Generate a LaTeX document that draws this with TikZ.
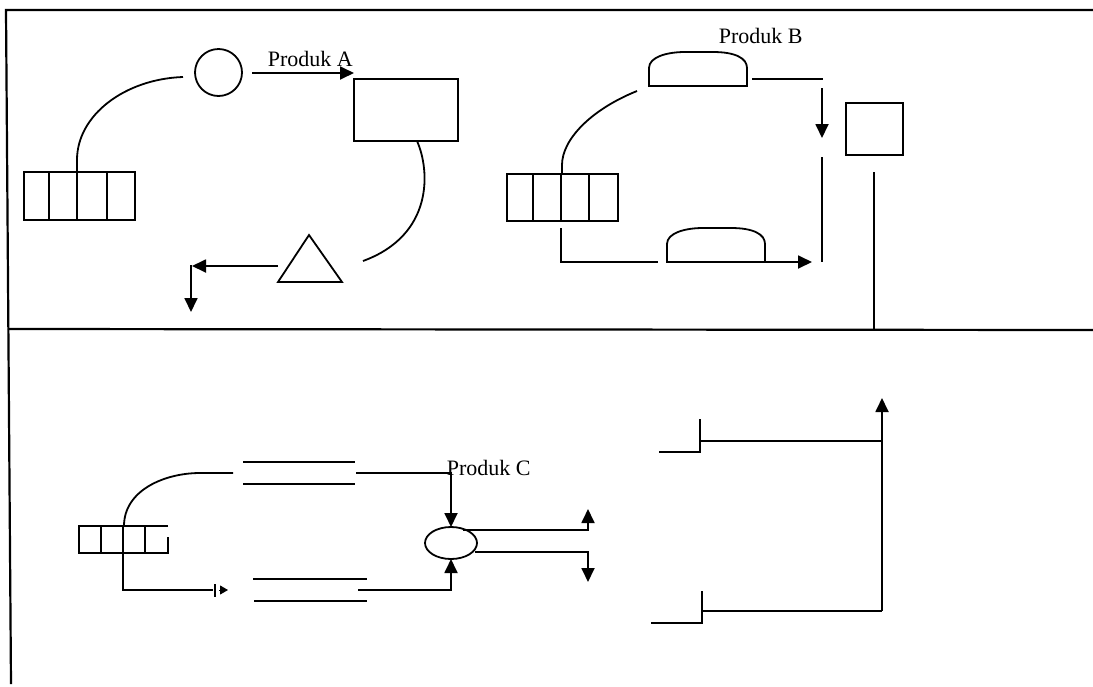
\documentclass[tikz,border=0pt]{standalone}
\usepackage{fontspec}
\setmainfont{Liberation Serif}
\usetikzlibrary{arrows.meta,shapes.geometric}
\begin{document}
\begin{tikzpicture}[x=1pt,y=-1pt, line width=1.8pt,
  arr/.style={-{Triangle[length=14pt,width=13pt]}},
  smallarr/.style={-{Triangle[length=8pt,width=9pt]}},
  boxnode/.style={draw, inner sep=0pt, outer sep=0pt},
  lbl/.style={inner sep=0pt, anchor=base west, font=\fontsize{22}{26}\selectfont},
  framel/.style={line width=2.2pt},
  dome/.pic={
    \draw (0,34) -- (0,16) .. controls (0,5) and (18,0) .. (36,0) -- (64,0)
          .. controls (86,0) and (98,6) .. (98,16) -- (98,34) -- cycle;
    \coordinate (-bl) at (0,34);
    \coordinate (-br) at (98,34);
  }]
\useasboundingbox (0,0) rectangle (1093,686);

% ---------- frame ----------
\coordinate (fTL) at (6,10);
\coordinate (fTR) at (1093,10);
\coordinate (fBL) at (11,684);
\coordinate (mL) at (8,329);
\coordinate (mR) at (1093,330);
\draw[framel] (fTR) -- (fTL) -- (fBL);
\draw[framel] (mL) -- (mR);

% ---------- panel A ----------
\node[boxnode, circle, minimum size=47pt] (cA) at (218.5,72.5) {};
\node[boxnode, minimum width=104pt, minimum height=62pt] (rA) at (406,110) {};
\node[boxnode, minimum width=111pt, minimum height=48pt] (qA) at (79.5,196) {};
\foreach \d in {25,53,83}
  \draw ([xshift=\d pt]qA.north west) -- ([xshift=\d pt]qA.south west);

\coordinate (tA1) at (309,235);
\coordinate (tA2) at (278,282);
\coordinate (tA3) at (342,282);
\draw (tA1) -- (tA2) -- (tA3) -- cycle;

\coordinate (kA1) at (183,77);
\coordinate (kA2) at (77,160);
\draw (kA1) .. controls (125,79) and (77,115) .. (kA2) -- (kA2 |- qA.north);

\coordinate (kA3) at (417,141);
\coordinate (kA4) at (363,261);
\draw (kA3) .. controls (430,170) and (434,235) .. (kA4);

\coordinate (aA1) at (252,73);
\draw[arr] (aA1) -- (aA1 -| rA.west);
\node[lbl] (tPA) at (267,66) {Produk A};

\coordinate (aA3) at (278,266);
\coordinate (aA4) at (192,266);
\draw[arr] (aA3) -- (aA4);
\coordinate (aA5) at (191,265);
\coordinate (aA6) at (191,312);
\draw[arr] (aA5) -- (aA6);

% ---------- panel B ----------
\node[boxnode, minimum width=111pt, minimum height=47pt] (qB) at (562.5,197.5) {};
\foreach \d in {26,54,82}
  \draw ([xshift=\d pt]qB.north west) -- ([xshift=\d pt]qB.south west);

\coordinate (kB1) at (637,91);
\coordinate (kB2) at (562,165);
\draw (kB1) .. controls (590,110) and (562,140) .. (kB2) -- (kB2 |- qB.north);

\pic (dB1) at (649,52) {dome};
\pic (dB2) at (667,228) {dome};
\node[lbl] (tPB) at (718,43) {Produk B};

\coordinate (lB1) at (561,228);
\coordinate (lB2) at (561,262);
\coordinate (lB3) at (658,262);
\draw (lB1) -- (lB2) -- (lB3);
\coordinate (aB2) at (812,262);
\draw[arr] (dB2-br) -- (aB2);

\coordinate (lB4) at (752,79);
\coordinate (lB5) at (823,79);
\draw (lB4) -- (lB5);
\coordinate (aB3) at (822,88);
\coordinate (aB4) at (822,138);
\draw[arr] (aB3) -- (aB4);
\coordinate (lB6) at (822,157);
\coordinate (lB7) at (822,262);
\draw (lB6) -- (lB7);

\node[boxnode, minimum width=57pt, minimum height=52pt] (sB) at (874.5,129) {};
\coordinate (lB8) at (874,172);
\coordinate (lB9) at (874,329);
\draw[line width=1.4pt] (lB8) -- (lB9);

% ---------- panel C ----------
\coordinate (qC1) at (168,526);
\coordinate (qC2) at (79,526);
\coordinate (qC3) at (79,553);
\coordinate (qC4) at (168,553);
\coordinate (qC5) at (168,537);
\draw (qC1) -- (qC2) -- (qC3) -- (qC4) -- (qC5);
\foreach \x in {101,123,145}
  \draw (\x,526) -- (\x,553);

\coordinate (kC1) at (124,526);
\coordinate (kC2) at (200,473);
\coordinate (kC3) at (233,473);
\draw (kC1) .. controls (124,490) and (165,473) .. (kC2) -- (kC3);

\coordinate (lC5) at (123,553);
\coordinate (lC6) at (123,590);
\coordinate (lC7) at (213,590);
\draw (lC5) -- (lC6) -- (lC7);
\coordinate (tk1) at (215,584);
\coordinate (tk2) at (215,597);
\draw[line width=2.4pt] (tk1) -- (tk2);
\coordinate (sa1) at (219,590);
\coordinate (sa2) at (228,590);
\draw[smallarr, line width=1pt] (sa1) -- (sa2);

% data stores
\coordinate (s1a) at (243,462); \coordinate (s1b) at (355,462);
\coordinate (s1c) at (243,484); \coordinate (s1d) at (355,484);
\coordinate (s2a) at (253,579); \coordinate (s2b) at (367,579);
\coordinate (s2c) at (254,601); \coordinate (s2d) at (367,601);
\draw (s1a) -- (s1b);
\draw (s1c) -- (s1d);
\draw (s2a) -- (s2b);
\draw (s2c) -- (s2d);

\node[boxnode, ellipse, minimum width=52pt, minimum height=32pt] (eC) at (451,543) {};
\coordinate (lC1) at (356,473);
\coordinate (lC2) at (451,473);
\draw[arr] (lC1) -- (lC2) -- (eC.north);
\coordinate (lC3) at (358,590);
\coordinate (lC4) at (451,590);
\draw[arr] (lC3) -- (lC4) -- (eC.south);
\node[lbl] (tPC) at (446,475) {Produk C};

\coordinate (oC1) at (463,530);
\coordinate (oC2) at (588,530);
\coordinate (oC3) at (588,509);
\draw[arr] (oC1) -- (oC2) -- (oC3);
\coordinate (oC4) at (475,552);
\coordinate (oC5) at (588,552);
\coordinate (oC6) at (588,582);
\draw[arr] (oC4) -- (oC5) -- (oC6);

% ---------- right structure ----------
\coordinate (u1) at (659,452);
\coordinate (u2) at (700,452);
\coordinate (u3) at (700,419);
\coordinate (u4) at (700,441);
\coordinate (u5) at (882,441);
\draw (u1) -- (u2) -- (u3);
\draw (u4) -- (u5);
\coordinate (w1) at (651,623);
\coordinate (w2) at (702,623);
\coordinate (w3) at (702,591);
\coordinate (w4) at (702,611);
\coordinate (w5) at (882,611);
\coordinate (w6) at (882,398);
\draw (w1) -- (w2) -- (w3);
\draw (w4) -- (w5);
\draw[arr] (w5) -- (w6);
\end{tikzpicture}
\end{document}
